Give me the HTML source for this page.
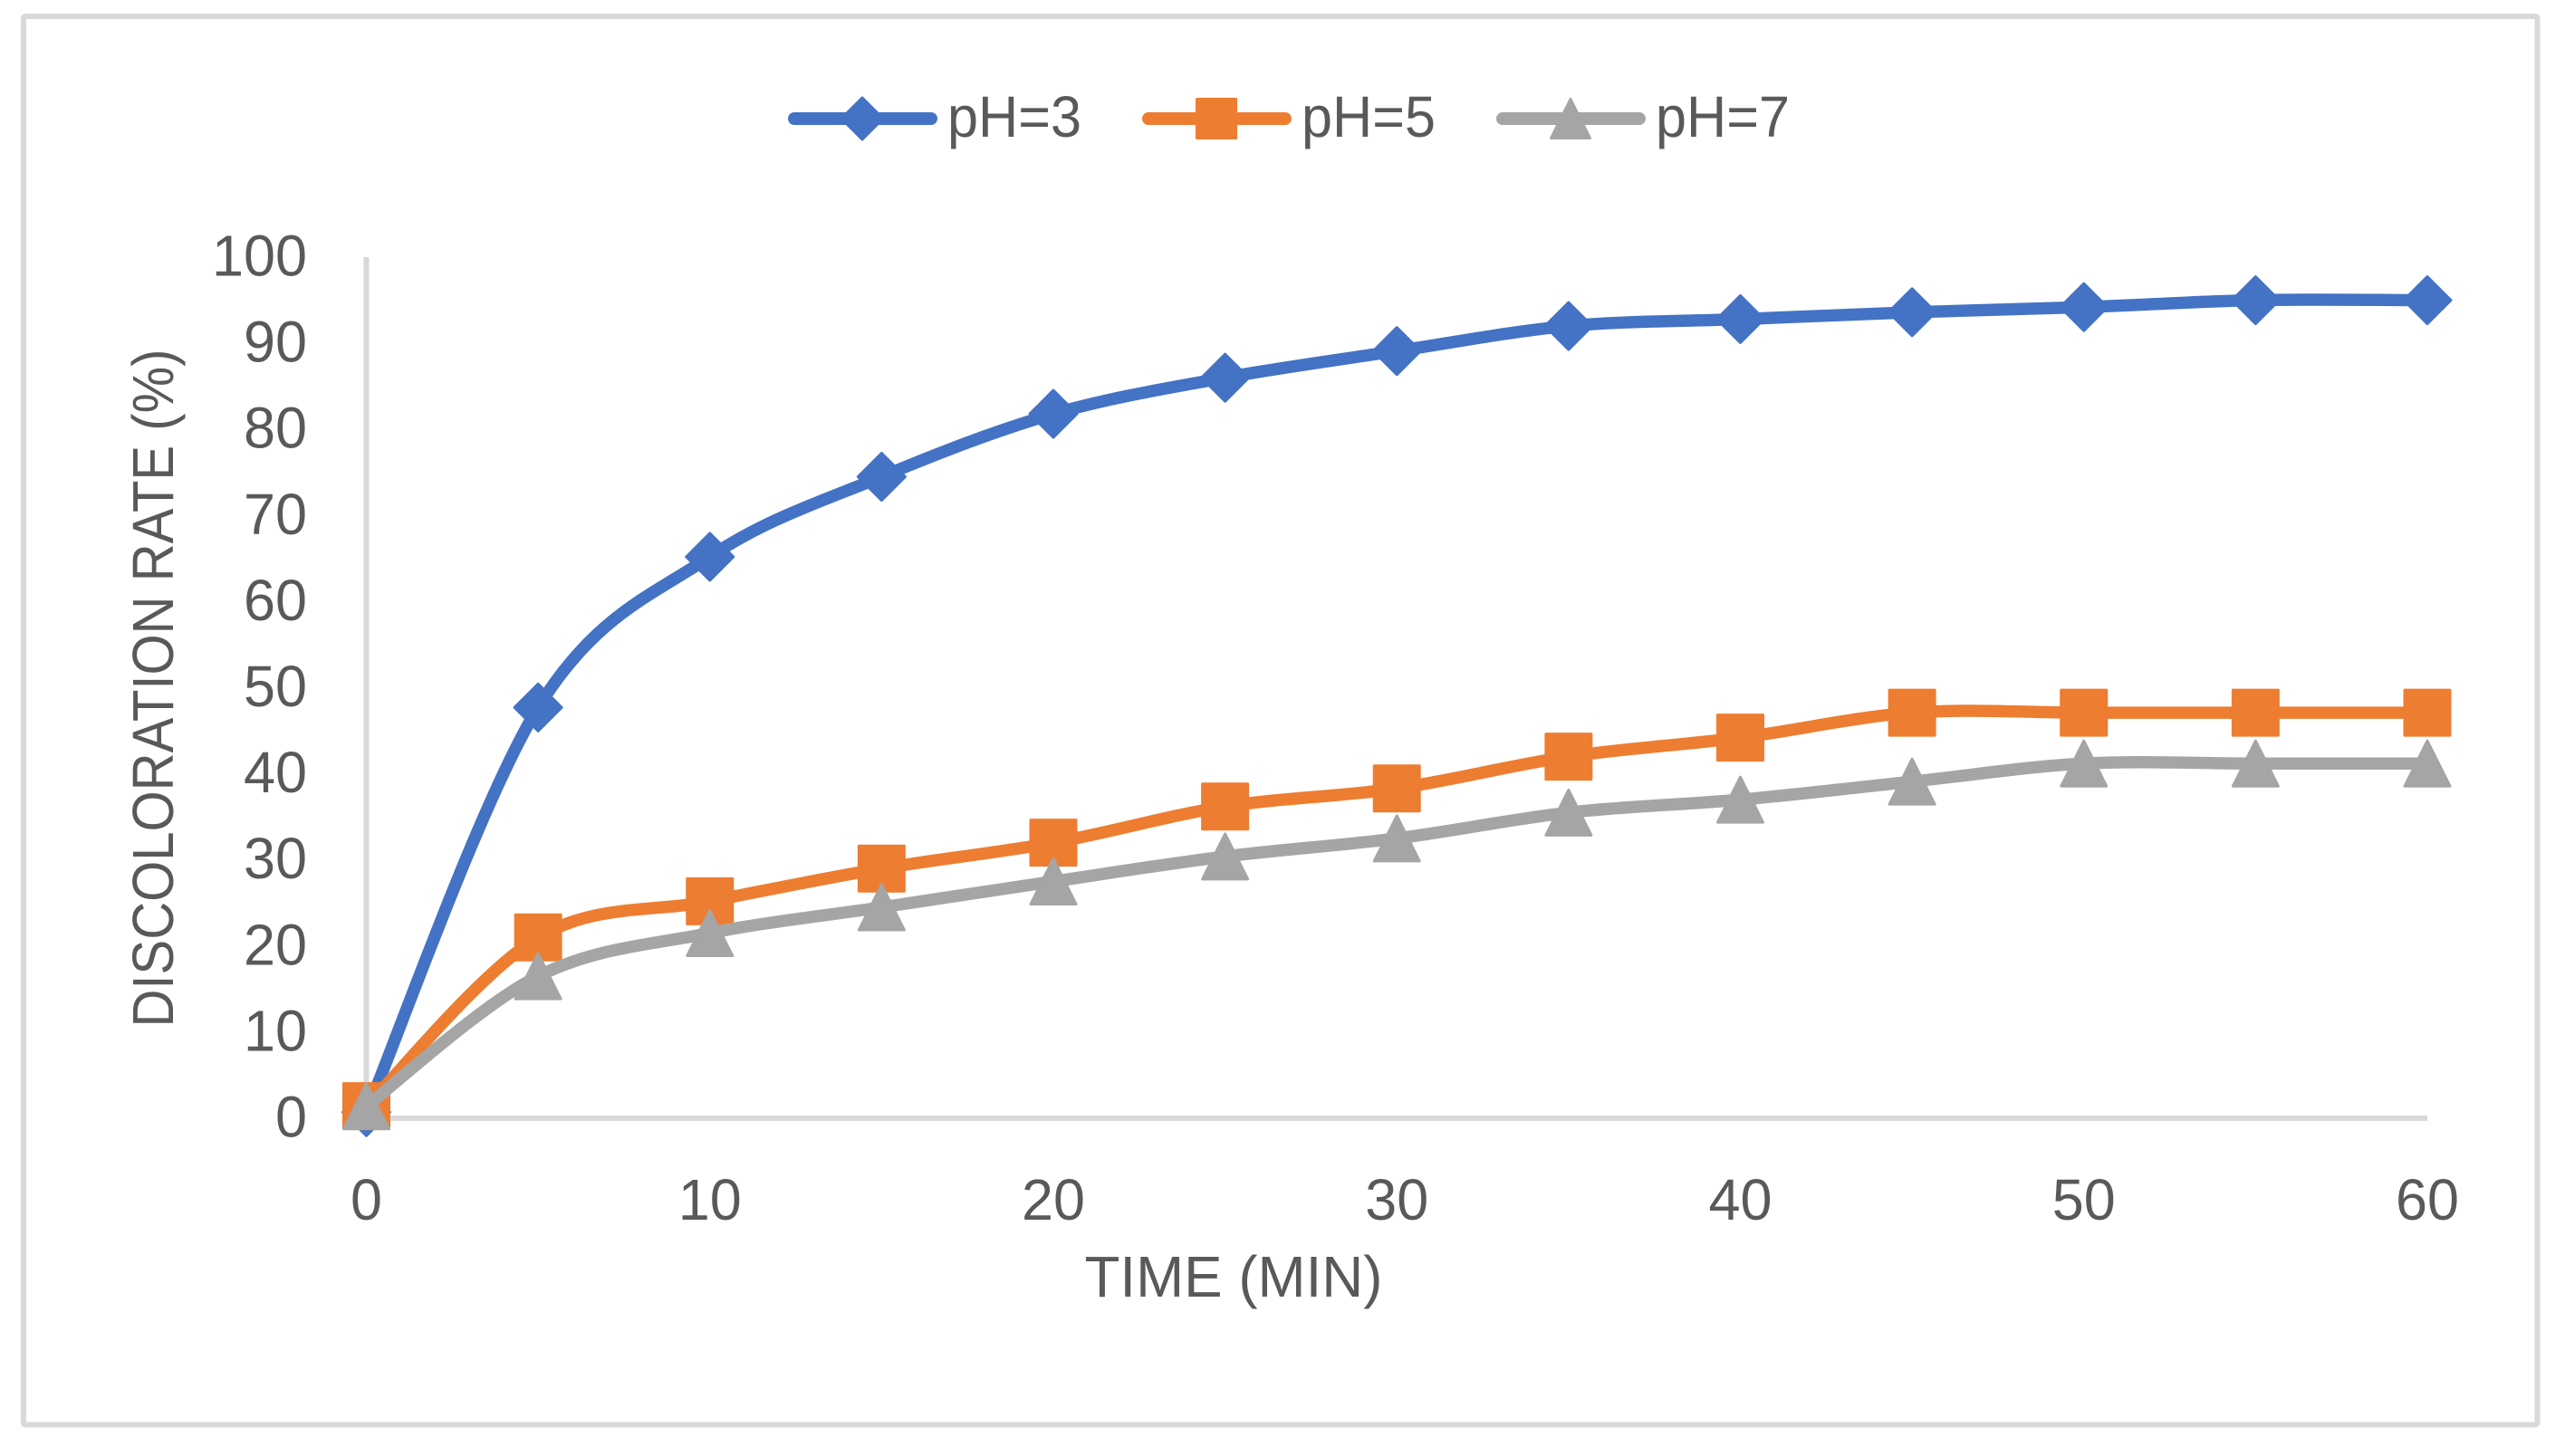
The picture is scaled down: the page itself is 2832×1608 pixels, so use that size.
<!DOCTYPE html>
<html>
<head>
<meta charset="utf-8">
<title>Discoloration rate vs time</title>
<style>
html,body{margin:0;padding:0;background:#fff;}
svg{display:block;}
text{font-family:"Liberation Sans",sans-serif;fill:#595959;font-size:64px;}
</style>
</head>
<body>
<svg id="chart" xmlns="http://www.w3.org/2000/svg" width="2832" height="1608" viewBox="0 0 2832 1608">
  <rect width="2832" height="1608" fill="#ffffff"/>
  <rect x="26" y="18" width="2775.5" height="1555.5" rx="2" fill="#ffffff" stroke="#d9d9d9" stroke-width="6"/>
  <g id="axes"></g>
  <g id="series"></g>
  <g id="legend"></g>
  <text x="1362" y="1432" text-anchor="middle" textLength="329" lengthAdjust="spacingAndGlyphs">TIME (MIN)</text>
  <text transform="translate(191,760) rotate(-90)" text-anchor="middle" textLength="749" lengthAdjust="spacingAndGlyphs">DISCOLORATION RATE (%)</text>
</svg>
<script>
var timeMinutes = [0, 5, 10, 15, 20, 25, 30, 35, 40, 45, 50, 55, 60];
var ph3Values = [0.7, 47.7, 65.2, 74.5, 81.8, 86, 89.1, 92, 92.8, 93.6, 94.2, 95, 95];
var ph5Values = [1.4, 21, 25.2, 29, 32, 36.2, 38.3, 42, 44.2, 47.1, 47.1, 47.1, 47.1];
var ph7Values = [1.4, 16.5, 21.5, 24.5, 27.5, 30.4, 32.5, 35.5, 37, 39.1, 41.2, 41.2, 41.2];
var xTickLabels = [0, 10, 20, 30, 40, 50, 60];
var yTickLabels = [0, 10, 20, 30, 40, 50, 60, 70, 80, 90, 100];
var seriesNames = ['pH=3', 'pH=5', 'pH=7'];

var SVGNS = 'http://www.w3.org/2000/svg';
var X0 = 404.5, X1 = 2680, Y0 = 1235, Y1 = 284;
var XMAX = 60, YMAX = 100;
function xScale(v) { return X0 + (X1 - X0) * v / XMAX; }
function yScale(v) { return Y0 - (Y0 - Y1) * v / YMAX; }
function make(tag, attrs, parent) {
  var el = document.createElementNS(SVGNS, tag);
  for (var k in attrs) el.setAttribute(k, attrs[k]);
  parent.appendChild(el);
  return el;
}
var axes = document.getElementById('axes');
var seriesRoot = document.getElementById('series');
var legendRoot = document.getElementById('legend');

var yAxisLine = make('line', {x1: X0, x2: X0, y1: Y1, y2: Y0, stroke: '#d9d9d9', 'stroke-width': 6}, axes);


var xAxisLine = make('line', {x1: X0 - 3, x2: X1, y1: Y0, y2: Y0, stroke: '#d9d9d9', 'stroke-width': 6}, axes);



yTickLabels.forEach(function (v) {
  var t = make('text', {x: 339, y: yScale(v) + 20.5, 'text-anchor': 'end', textLength: String(v).length * 35, lengthAdjust: 'spacingAndGlyphs'}, axes);
  t.textContent = v;
  
  
});
xTickLabels.forEach(function (v) {
  var t = make('text', {x: xScale(v), y: 1347, 'text-anchor': 'middle', textLength: String(v).length * 35, lengthAdjust: 'spacingAndGlyphs'}, axes);
  t.textContent = v;
  
  
});

function smoothPath(pts) {
  var d = 'M' + pts[0][0] + ' ' + pts[0][1];
  for (var i = 0; i < pts.length - 1; i++) {
    var p0 = pts[Math.max(0, i - 1)], p1 = pts[i], p2 = pts[i + 1], p3 = pts[Math.min(pts.length - 1, i + 2)];
    var c1x = p1[0] + (p2[0] - p0[0]) / 6, c1y = p1[1] + (p2[1] - p0[1]) / 6;
    var c2x = p2[0] - (p3[0] - p1[0]) / 6, c2y = p2[1] - (p3[1] - p1[1]) / 6;
    d += ' C' + c1x + ' ' + c1y + ' ' + c2x + ' ' + c2y + ' ' + p2[0] + ' ' + p2[1];
  }
  return d;
}
function markerPoints(kind, cx, cy, r) {
  if (kind === 'diamond') return [[cx, cy - r], [cx + r, cy], [cx, cy + r], [cx - r, cy]];
  if (kind === 'square') return [[cx - r, cy - r], [cx + r, cy - r], [cx + r, cy + r], [cx - r, cy + r]];
  return [[cx, cy - r], [cx + r, cy + r], [cx - r, cy + r]];
}
function drawMarker(kind, cx, cy, r, color, parent) {
  var pts = markerPoints(kind, cx, cy, r).map(function (p) { return p.join(','); }).join(' ');
  return make('polygon', {points: pts, fill: color, stroke: color, 'stroke-width': 3, 'stroke-linejoin': 'round'}, parent);
}

var seriesValues = [ph3Values, ph5Values, ph7Values];
var seriesColors = ['#4472c4', '#ed7d31', '#a5a5a5'];
var seriesKinds = ['diamond', 'square', 'triangle'];
var seriesSlugs = ['ph3', 'ph5', 'ph7'];
var legendLineStart = [870, 1261, 1652];
var legendTextX = [1046, 1437, 1828];

seriesValues.forEach(function (values, s) {
  var g = make('g', {}, seriesRoot);
  
  
  var pts = values.map(function (v, i) { return [xScale(timeMinutes[i]), yScale(v)]; });
  var line = make('path', {d: smoothPath(pts), fill: 'none', stroke: seriesColors[s], 'stroke-width': 13.5, 'stroke-linecap': 'round', 'stroke-linejoin': 'round'}, g);
  
  
  pts.forEach(function (p) {
    var m = drawMarker(seriesKinds[s], p[0], p[1], s === 0 ? 26 : 25, seriesColors[s], g);
    
    
  });

  var entry = make('g', {}, legendRoot);
  
  
  var ls = legendLineStart[s];
  var key = make('line', {x1: ls + 7, x2: ls + 158, y1: 131, y2: 131, stroke: seriesColors[s], 'stroke-width': 14, 'stroke-linecap': 'round'}, entry);
  
  
  var km = drawMarker(seriesKinds[s], ls + 82, 131, s === 0 ? 23 : 21.5, seriesColors[s], entry);
  
  
  var label = make('text', {x: legendTextX[s], y: 151, textLength: 148, lengthAdjust: 'spacingAndGlyphs'}, entry);
  label.textContent = seriesNames[s];
  
  
});
</script>
</body>
</html>
